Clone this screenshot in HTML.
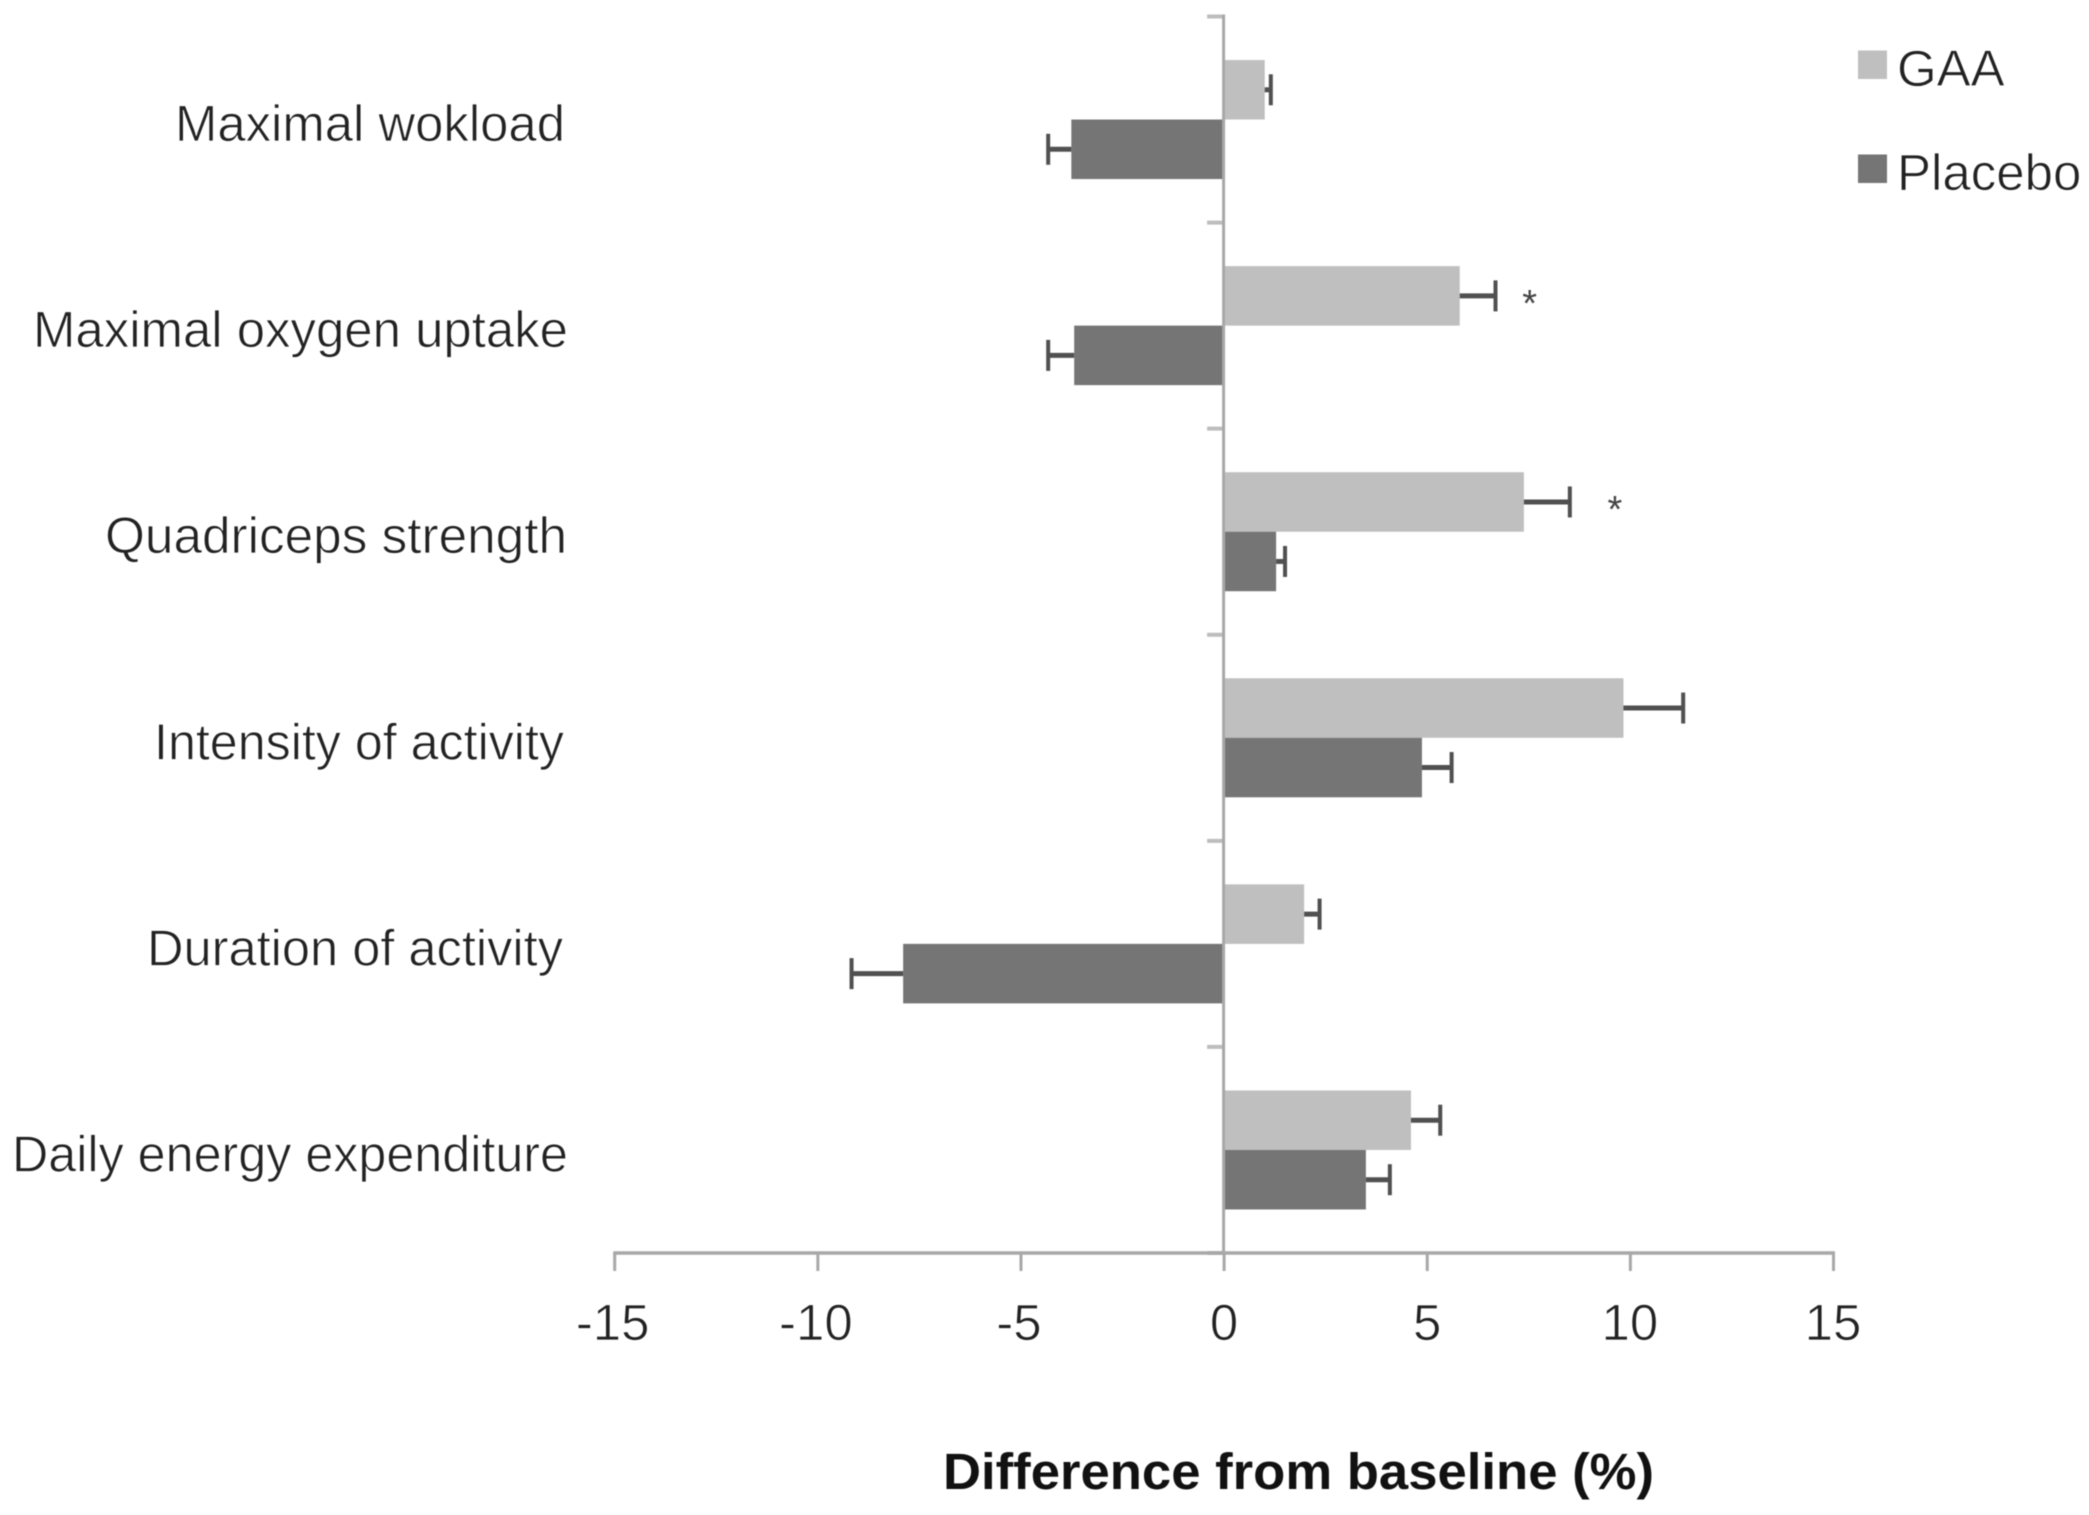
<!DOCTYPE html>
<html lang="en">
<head>
<meta charset="utf-8">
<title>Difference from baseline</title>
<style>
html,body{margin:0;padding:0;background:#fff;width:2089px;height:1515px;overflow:hidden}
svg{display:block;filter:blur(0.6px)}
text{font-family:"Liberation Sans",Arial,sans-serif}
.thin{stroke:#ffffff;stroke-width:0.8px}
</style>
</head>
<body>
<svg id="chart" xmlns="http://www.w3.org/2000/svg" width="2089" height="1515" viewBox="0 0 2089 1515"></svg>
<script>
const categories = ["Maximal wokload", "Maximal oxygen uptake", "Quadriceps strength", "Intensity of activity", "Duration of activity", "Daily energy expenditure"];
const gaaValues = [1.0, 5.8, 7.38, 9.83, 1.97, 4.6];
const gaaErrors = [0.15, 0.88, 1.13, 1.47, 0.38, 0.72];
const placeboValues = [-3.76, -3.69, 1.28, 4.87, -7.9, 3.49];
const placeboErrors = [0.57, 0.64, 0.22, 0.73, 1.27, 0.59];
const significance = [null, 7.52, 9.62, null, null, null];
const xTicks = [-15, -10, -5, 0, 5, 10, 15];
const seriesNames = ["GAA", "Placebo"];

const NS = "http://www.w3.org/2000/svg";
const svg = document.getElementById("chart");
const AXIS = "#a8a8a8", GAA = "#bfbfbf", PLACEBO = "#757575", ERR = "#505050", INK = "#222222";
const plot = { left: 614.7, right: 1833.5, top: 16.5, bottom: 1253, min: -15, max: 15 };
const barH = 59.5;
const labelRight = [565, 568, 567, 564, 563, 568];
const labelFit = [390, 535, 462, 410, 416, 556];

function xScale(v) { return plot.left + (v - plot.min) / (plot.max - plot.min) * (plot.right - plot.left); }
function bandCenter(i) { return plot.top + (i + 0.5) * (plot.bottom - plot.top) / categories.length; }
function bandEdge(i) { return plot.top + i * (plot.bottom - plot.top) / categories.length; }

function mk(tag, attrs, text) {
  const el = document.createElementNS(NS, tag);
  for (const k in attrs) el.setAttribute(k, attrs[k]);
  if (text !== undefined) el.textContent = text;
  svg.appendChild(el);
  return el;
}

/* category ticks */
for (let i = 0; i <= categories.length; i++) {
  const el = mk("line", { x1: xScale(0) - 17, x2: xScale(0), y1: bandEdge(i), y2: bandEdge(i), stroke: "#bdbdbd", "stroke-width": 4 });
  
  
}

/* bars and error bars */
function drawSeries(values, errors, color, offset, label) {
  values.forEach(function (v, i) {
    const x0 = xScale(0), x1 = xScale(v);
    const top = bandCenter(i) + offset;
    const bar = mk("rect", { x: Math.min(x0, x1), y: top, width: Math.abs(x1 - x0), height: barH, fill: color });
    
    
    const dir = v < 0 ? -1 : 1;
    const xe = xScale(v + dir * errors[i]);
    const cy = top + barH / 2;
    const stem = mk("line", { x1: x1, x2: xe, y1: cy, y2: cy, stroke: ERR, "stroke-width": 5 });
    
    
    const cap = mk("line", { x1: xe, x2: xe, y1: cy - 15.5, y2: cy + 15.5, stroke: ERR, "stroke-width": 4 });
    
    
  });
}
drawSeries(gaaValues, gaaErrors, GAA, -barH, "gaa");
drawSeries(placeboValues, placeboErrors, PLACEBO, 0, "placebo");

/* axes */
const yAxis = mk("line", { x1: xScale(0) - 0.5, x2: xScale(0) - 0.5, y1: plot.top - 2, y2: plot.bottom, stroke: AXIS, "stroke-width": 3 });


const xAxis = mk("line", { x1: plot.left - 1.5, x2: plot.right + 1.5, y1: plot.bottom, y2: plot.bottom, stroke: AXIS, "stroke-width": 3.5 });



xTicks.forEach(function (t) {
  const tick = mk("line", { x1: xScale(t), x2: xScale(t), y1: plot.bottom, y2: plot.bottom + 18, stroke: AXIS, "stroke-width": 3 });
  
  
  const lab = mk("text", { x: xScale(t) - (t < 0 ? 2 : 0) - (t > 5 ? 0.5 : 0), y: 1340, "text-anchor": "middle", "font-size": 51, fill: INK, class: "thin" }, String(t));
  
  
});

/* category labels */
categories.forEach(function (c, i) {
  const lab = mk("text", { x: labelRight[i], y: bandCenter(i) + 21.5, "text-anchor": "end", "font-size": 51, fill: INK, class: "thin", textLength: labelFit[i], lengthAdjust: "spacingAndGlyphs" }, c);
  
  
});

/* significance asterisks */
significance.forEach(function (s, i) {
  if (s === null) return;
  const star = mk("text", { x: xScale(s), y: bandCenter(i) - barH / 2 + 20, "text-anchor": "middle", "font-size": 38, fill: "#444" }, "*");
  
  
});

/* axis title */
const title = mk("text", { x: 943, y: 1489, "font-size": 51, "font-weight": "bold", fill: "#111", textLength: 711, lengthAdjust: "spacingAndGlyphs" }, "Difference from baseline (%)");



/* legend */
seriesNames.forEach(function (n, i) {
  const sy = 50.5 + i * 104;
  const sw = mk("rect", { x: 1858, y: sy, width: 29, height: 28.5, fill: i === 0 ? GAA : PLACEBO });
  
  
  const lab = mk("text", { x: 1897, y: sy + 35.5, "font-size": 51, fill: INK, class: "thin" }, n);
  
  
});
</script>
</body>
</html>
